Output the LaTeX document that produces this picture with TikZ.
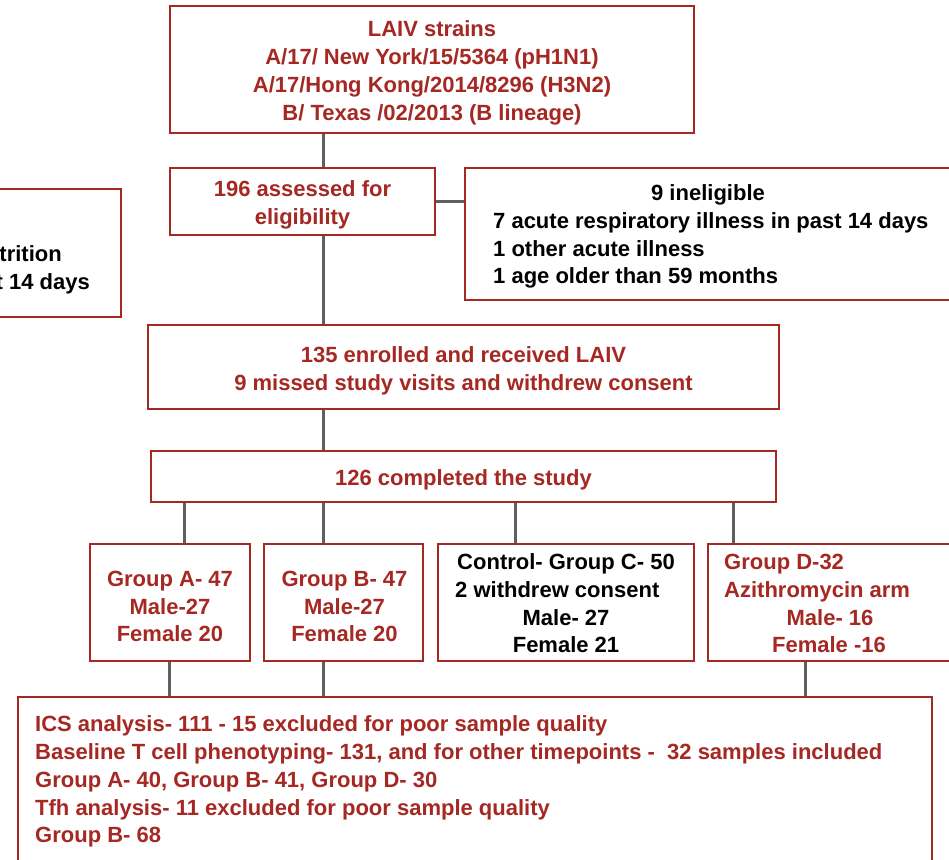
\documentclass[tikz,border=0pt]{standalone}
\usepackage{fontspec}
\setmainfont{Liberation Sans}
\definecolor{flowred}{RGB}{165,40,35}
\definecolor{linkgray}{RGB}{95,95,95}
\begin{document}
\begin{tikzpicture}[x=1pt,y=-1pt,
  box/.style={draw=flowred, line width=2.6pt, fill=white, inner sep=0pt},
  boxtext/.style={inner sep=0pt, text=flowred, align=center,
    font=\fontsize{22}{27.8}\selectfont\bfseries},
  txt/.style={inner sep=0pt, text=flowred, font=\fontsize{22}{27.8}\selectfont\bfseries,
    text height=15.8pt, text depth=0pt},
  blk/.style={txt, text=black},
  link/.style={draw=linkgray, line width=3pt}]
\useasboundingbox (0,0) rectangle (949,859);
\clip (0,0) rectangle (949,859);
% x positions of connectors
\coordinate (xa) at (323,0);
\coordinate (x1) at (184,0);
\coordinate (x3) at (515,0);
\coordinate (x4) at (733,0);
\coordinate (y1) at (169,0);
\coordinate (y4) at (805,0);
% boxes
\node[box, minimum width=524pt, minimum height=127pt] (laiv) at (432,69.5) {};
\node[box, minimum width=265pt, minimum height=67pt] (assess) at (302.5,201.5) {};
\node[box, minimum width=535pt, minimum height=132pt] (inel) at (732.5,234) {};
\node[box, minimum width=221pt, minimum height=128pt] (left) at (10.5,253) {};
\node[box, minimum width=631pt, minimum height=84pt] (enr) at (463.5,367) {};
\node[box, minimum width=625pt, minimum height=51pt] (comp) at (463.5,476.5) {};
\node[box, minimum width=160pt, minimum height=117pt] (ga) at (170,602.5) {};
\node[box, minimum width=159pt, minimum height=117pt] (gb) at (343.5,602.5) {};
\node[box, minimum width=256pt, minimum height=117pt] (gc) at (566,602.5) {};
\node[box, minimum width=292pt, minimum height=117pt] (gd) at (854,602.5) {};
\node[box, minimum width=914pt, minimum height=203pt] (res) at (475,798.5) {};
% centred box texts
\node[boxtext] (laivt) at ([yshift=-3.5pt]laiv.center)
  {LAIV strains\\A/17/ New York/15/5364 (pH1N1)\\A/17/Hong Kong/2014/8296 (H3N2)\\B/ Texas /02/2013 (B lineage)};
\node[boxtext] (assesst) at ([yshift=-3pt]assess.center) {196 assessed for\\eligibility};
\node[boxtext] (enrt) at ([yshift=-3.5pt]enr.center)
  {135 enrolled and received LAIV\\9 missed study visits and withdrew consent};
\node[txt] (compt) at ([yshift=-1.5pt]comp.center) {126 completed the study};
\node[boxtext] (gat) at ([yshift=-4pt]ga.center) {Group A- 47\\Male-27\\Female 20};
\node[boxtext] (gbt) at ([yshift=-4pt,xshift=1pt]gb.center) {Group B- 47\\Male-27\\Female 20};
% texts of the ineligible box
\node[blk] (i0) at (708,193) {9 ineligible};
\node[blk, anchor=west] (i1) at (493,221) {7 acute respiratory illness in past 14 days};
\node[blk, anchor=west] (i2) at (493,249) {1 other acute illness};
\node[blk, anchor=west] (i3) at (493,276) {1 age older than 59 months};
% texts of the left box
\node[blk, anchor=east] (l1) at (62,254) {trition};
\node[blk, anchor=east] (l2) at (90,282) {t 14 days};
% group C
\node[blk] (c1) at (566,562) {Control- Group C- 50};
\node[blk, anchor=west] (c2) at (455,590) {2 withdrew consent};
\node[blk] (c3) at (566,618) {Male- 27};
\node[blk] (c4) at (566,645) {Female 21};
% group D
\node[txt, anchor=west] (d1) at (724,562) {Group D-32};
\node[txt, anchor=west] (d2) at (724,590) {Azithromycin arm};
\node[txt] (d3) at (830,618) {Male- 16};
\node[txt] (d4) at (829,645) {Female -16};
% results
\node[txt, anchor=west] (r1) at (35,724) {ICS analysis- 111 - 15 excluded for poor sample quality};
\node[txt, anchor=west] (r2) at (35,752) {Baseline T cell phenotyping- 131, and for other timepoints -\ \ 32 samples included};
\node[txt, anchor=west] (r3) at (35,780) {Group A- 40, Group B- 41, Group D- 30};
\node[txt, anchor=west] (r4) at (35,808) {Tfh analysis- 11 excluded for poor sample quality};
\node[txt, anchor=west] (r5) at (35,835) {Group B- 68};
% connectors
\draw[link] (laiv.south -| xa) -- (assess.north -| xa);
\draw[link] (assess.east) -- (assess.east -| inel.west);
\draw[link] (assess.south -| xa) -- (enr.north -| xa);
\draw[link] (enr.south -| xa) -- (comp.north -| xa);
\draw[link] (comp.south -| x1) -- (ga.north -| x1);
\draw[link] (comp.south -| xa) -- (gb.north -| xa);
\draw[link] (comp.south -| x3) -- (gc.north -| x3);
\draw[link] (comp.south -| x4) -- (gd.north -| x4);
\draw[link] (ga.south -| y1) -- (res.north -| y1);
\draw[link] (gb.south -| xa) -- (res.north -| xa);
\draw[link] (gd.south -| y4) -- (res.north -| y4);
\end{tikzpicture}
\end{document}
